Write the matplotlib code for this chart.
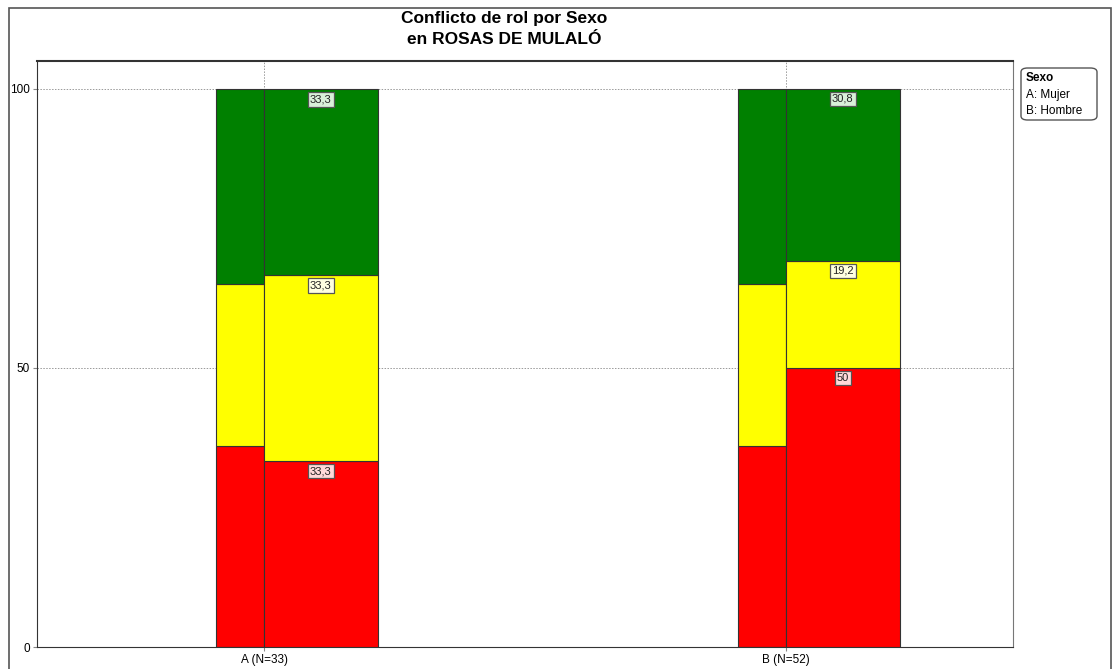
import matplotlib.pyplot as plt
from matplotlib.patches import Rectangle, FancyBboxPatch

plt.rcParams['font.family'] = ['Liberation Sans', 'DejaVu Sans']

# data
groups = ['A (N=33)', 'B (N=52)']
levels = ['rojo', 'amarillo', 'verde']
colors = ['#ff0000', '#ffff00', '#008000']
label_bg = ['#ffd9d9', '#ffffe0', '#d9f0d9']

# reference column (narrow bar behind each group)
reference = [36.0, 29.0, 35.0]

# per-group percentages (red, yellow, green)
pct_A = [33.3, 33.3, 33.3]
pct_B = [50.0, 19.2, 30.8]
group_values = [pct_A, pct_B]

fig = plt.figure(figsize=(11.13, 6.69), dpi=100)
ax = fig.add_axes([37 / 1113, 1 - 647 / 669, (1013 - 37) / 1113, (647 - 61) / 669])

xpos = [1, 2]
narrow_w = 0.092
wide_w = 0.218

ax.grid(True, color='#999999', linestyle=(0, (1.5, 1.5)), linewidth=0.7)
ax.set_axisbelow(True)

for x, vals in zip(xpos, group_values):
    # narrow reference bar
    bottom = 0
    for v, c in zip(reference, colors):
        ax.bar(x - narrow_w, v, width=narrow_w, bottom=bottom, align='edge',
               color=c, edgecolor='#333333', linewidth=0.8, zorder=2)
        bottom += v
    # wide group bar
    bottom = 0
    for v, c, bg in zip(vals, colors, label_bg):
        ax.bar(x, v, width=wide_w, bottom=bottom, align='edge',
               color=c, edgecolor='#333333', linewidth=0.8, zorder=3)
        txt = ('%.1f' % v).replace('.', ',') if v != int(v) else '%d' % v
        ax.text(x + wide_w / 2, bottom + v - 0.9, txt, ha='center', va='top',
                fontsize=8, color='#222222', zorder=5,
                bbox=dict(boxstyle='square,pad=0.2', facecolor=bg,
                          edgecolor='#555555', linewidth=0.9))
        bottom += v

ax.set_xlim(0.565, 2.435)
ax.set_ylim(0, 105)
ax.set_yticks([0, 50, 100])
ax.set_yticklabels(['0', '50', '100'], fontsize=8.5)
ax.set_xticks(xpos)
ax.set_xticklabels(groups, fontsize=8.5)
ax.tick_params(length=3, color='#888888', pad=2)
for s in ax.spines.values():
    s.set_color('#777777')
ax.spines['top'].set_color('#333333')
ax.spines['top'].set_linewidth(1.5)
ax.spines['left'].set_color('#333333')
ax.spines['bottom'].set_color('#333333')

fig.text(504 / 1113, 1 - 18 / 669, 'Conflicto de rol por Sexo',
         ha='center', va='center', fontsize=12.5, fontweight='bold')
fig.text(504 / 1113, 1 - 40 / 669, 'en ROSAS DE MULALÓ',
         ha='center', va='center', fontsize=12.5, fontweight='bold')

# figure border
fig.patches.append(Rectangle((9 / 1113, -0.01), 1102 / 1113, 1 - 8 / 669 + 0.01,
                             transform=fig.transFigure, fill=False,
                             edgecolor='#555555', linewidth=1.2))

# legend box
fig.patches.append(FancyBboxPatch((1021 / 1113, 1 - 120 / 669), 76 / 1113, 52 / 669,
                                  boxstyle='round,pad=0,rounding_size=0.006',
                                  transform=fig.transFigure, facecolor='white',
                                  edgecolor='#555555', linewidth=1.0))
fig.text(1026 / 1113, 1 - 78 / 669, 'Sexo', fontsize=8.5, fontweight='bold', va='center')
fig.text(1026 / 1113, 1 - 95 / 669, 'A: Mujer', fontsize=8.5, va='center')
fig.text(1026 / 1113, 1 - 111 / 669, 'B: Hombre', fontsize=8.5, va='center')

fig.savefig('out.png', dpi=100)
